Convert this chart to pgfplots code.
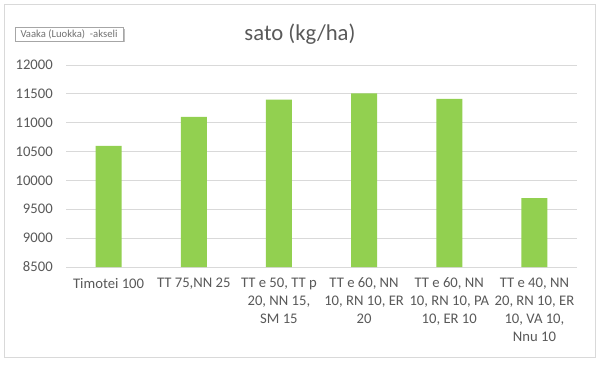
\documentclass[border=0pt]{standalone}
\usepackage{fontspec}
\setmainfont{Carlito}
\usepackage{pgfplots}
\pgfplotsset{compat=1.18}
\definecolor{barc}{HTML}{92D050}
\definecolor{txt}{HTML}{595959}
\definecolor{gridc}{HTML}{D9D9D9}
\begin{document}
\begin{tikzpicture}[x=0.75pt,y=0.75pt]
\path[use as bounding box, fill=white] (0,0) rectangle (600,365);
\draw[gridc, line width=0.75pt] (4,8) rectangle (595,360);
\node[font=\fontsize{17}{20}\selectfont, text=txt, inner sep=0pt] at (300,330.5) {sato (kg/ha)};
\fill[black!25] (16.5,322.5) rectangle (124.5,336);
\draw[black!35, fill=white, line width=0.6pt] (15,324) rectangle (123,337.5);
\node[font=\fontsize{8}{9}\selectfont, text=txt!85, inner sep=0pt] at (69,330.5) {Vaaka (Luokka)\ \ -akseli};
\begin{axis}[
  at={(49.5pt,73.5pt)}, anchor=south west,
  scale only axis, width=383.25pt, height=151.5pt,
  ymin=8500, ymax=12000, ytick={8500,9000,...,12000},
  scaled y ticks=false,
  xmin=-0.5, xmax=5.5, xtick=data,
  xticklabels={{Timotei 100},{TT 75,NN 25},{TT e 50, TT p\\20, NN 15,\\SM 15},{TT e 60, NN\\10, RN 10, ER\\20},{TT e 60, NN\\10, RN 10, PA\\10, ER 10},{TT e 40, NN\\20, RN 10, ER\\10, VA 10,\\Nnu 10}},
  axis x line*=bottom, axis y line*=left,
  y axis line style={draw=none},
  x axis line style={draw=gridc, line width=0.75pt, -},
  major tick length=0pt,
  ymajorgrids, grid style={draw=gridc, line width=0.75pt},
  /pgf/number format/assume math mode=true,
  yticklabel={\pgfmathprintnumber[fixed, precision=0, 1000 sep={}]{\tick}},
  ticklabel style={font=\fontsize{11}{13.5}\selectfont, text=txt},
  yticklabel style={anchor=east, inner sep=0pt, xshift=-9.75pt},
  xticklabel style={anchor=north, inner sep=0pt, yshift=-8pt, align=center},
  ybar, bar width=19.5pt,
]
\addplot[fill=barc, draw=none] coordinates {(0,10600) (1,11100) (2,11400) (3,11510) (4,11415) (5,9695)};
\end{axis}
\end{tikzpicture}
\end{document}
